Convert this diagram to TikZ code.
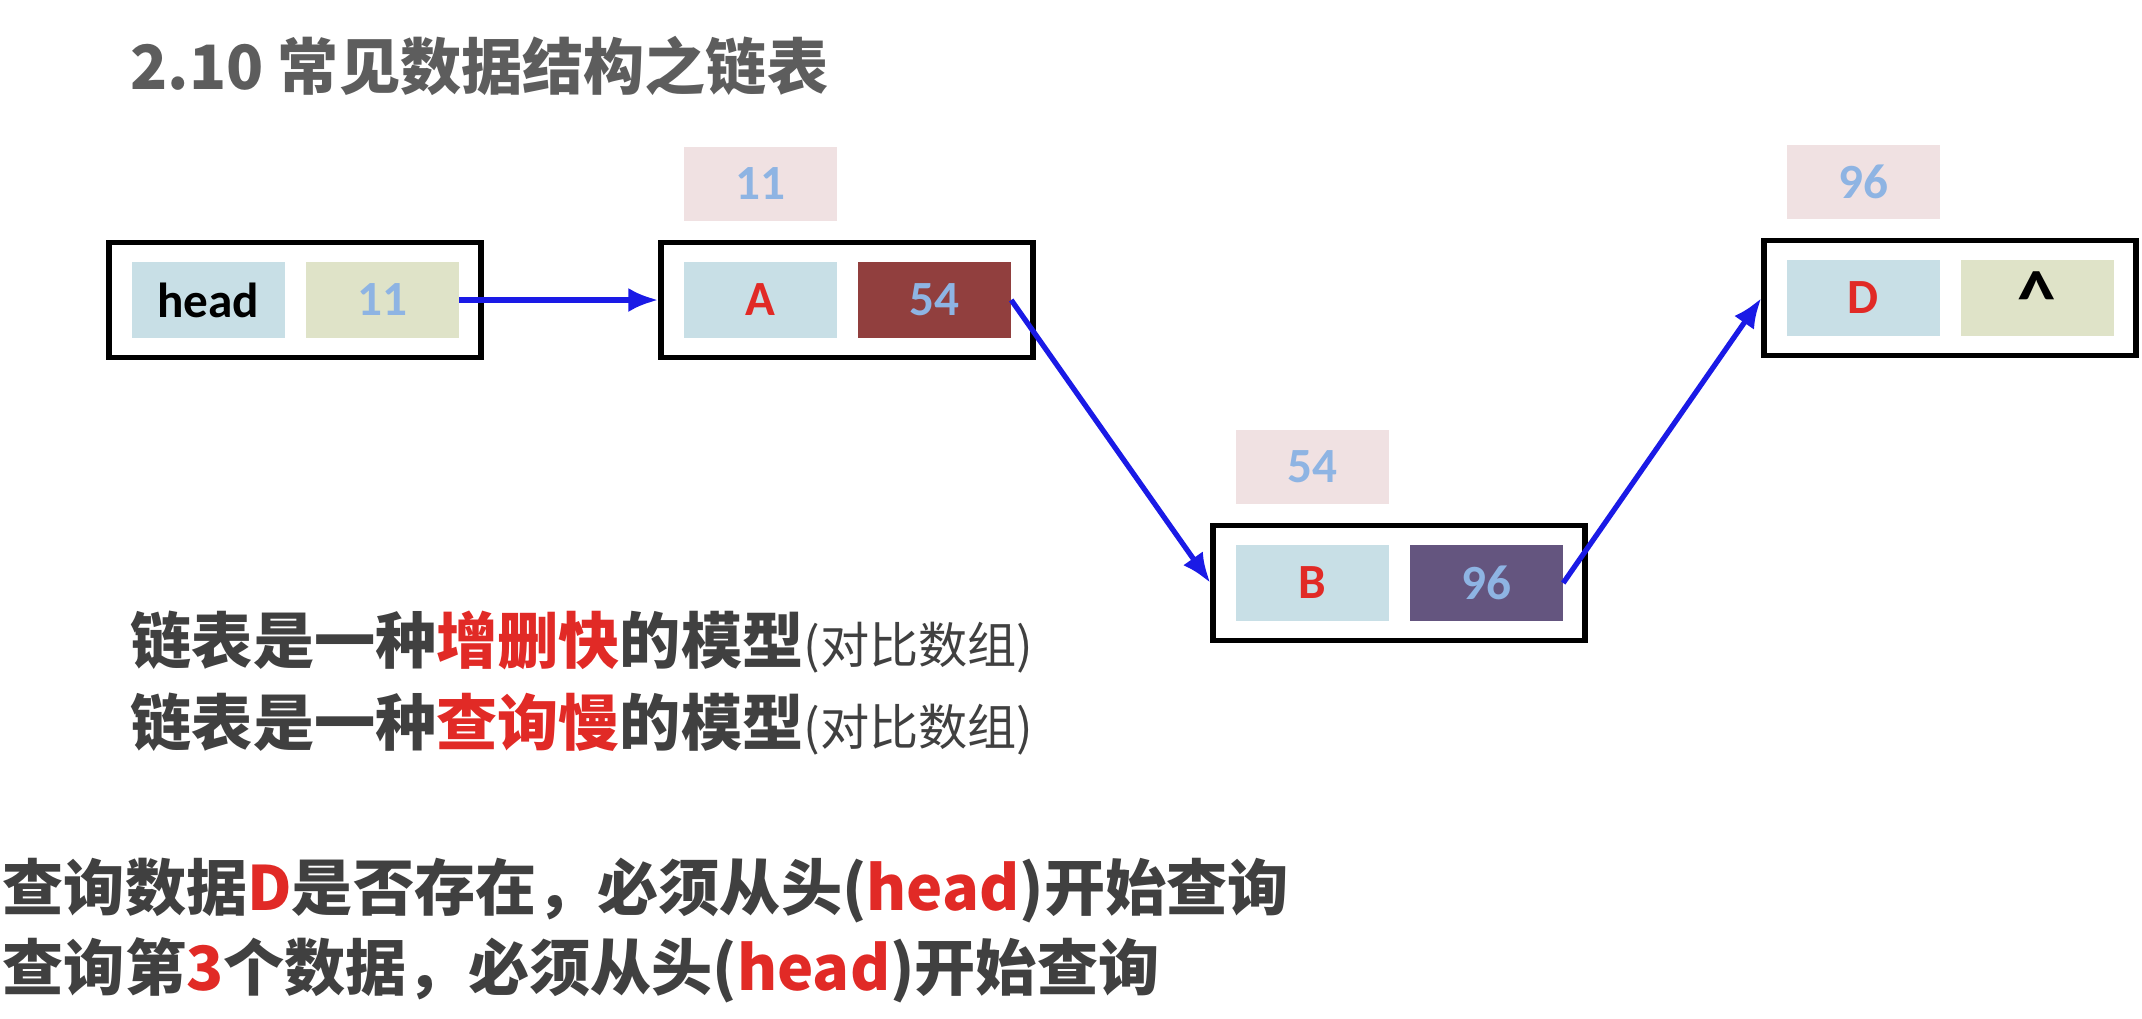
\documentclass[tikz,border=0pt]{standalone}
\usepackage{fontspec}
\setmainfont{Carlito}
\newfontfamily\cjk{Noto Sans CJK SC}
\usetikzlibrary{arrows.meta}

\definecolor{cellblue}{HTML}{C8DFE6}
\definecolor{cellkhaki}{HTML}{DFE3C8}
\definecolor{cellred}{HTML}{913F3E}
\definecolor{cellpurple}{HTML}{64557F}
\definecolor{tagpink}{HTML}{F0E1E2}
\definecolor{numblue}{HTML}{8EB4E3}
\definecolor{markred}{HTML}{E12A26}
\definecolor{textgray}{HTML}{404040}
\definecolor{linkblue}{HTML}{1A1AE6}

\begin{document}
\begin{tikzpicture}[
  node distance=8.7mm,
  listbox/.style = {
    draw,
    line width=1.5pt,
    fill=white,
    minimum width=3.72cm,
    minimum height=1.15cm
  },
  cell/.style = {
    minimum width=1.53cm,
    minimum height=0.76cm,
    inner sep=0pt,
    font=\fontsize{14}{16}\selectfont\bfseries
  },
  tag/.style = {
    cell,
    fill=tagpink,
    text=numblue,
    minimum height=0.74cm
  },
  note/.style = {
    anchor=west,
    inner sep=0pt,
    text=textgray,
    font=\cjk\bfseries\fontsize{17.4}{20}\selectfont
  },
  link/.style = {
    ->,
    draw=linkblue,
    line width=1.5pt
  },
  >={Latex[length=3mm,width=2.4mm]}
]
  \useasboundingbox (0,0) rectangle (21.42,-10.18);

  \node (title)[note, text=textgray!85] at (1.30,-0.66) {2.10 常见数据结构之链表};

  % head node
  \node (headbox)[listbox] at (2.95,-3.00) {};
  \node (hkey)[
    left of=headbox,
    cell,
    fill=cellblue
  ] {head};
  \node (hval)[
    right of=headbox,
    cell,
    fill=cellkhaki,
    text=numblue
  ] {11};

  % node A
  \node (abox)[
    right of=headbox,
    listbox,
    xshift=46.5mm
  ] {};
  \node (akey)[
    left of=abox,
    cell,
    fill=cellblue,
    text=markred
  ] {A};
  \node (aval)[
    right of=abox,
    cell,
    fill=cellred,
    text=numblue
  ] {54};
  \node (atag)[
    above of=akey,
    tag,
    yshift=2.9mm
  ] {11};

  % node B
  \node (bbox)[
    right of=abox,
    listbox,
    xshift=46.5mm,
    yshift=-28.3mm
  ] {};
  \node (bkey)[
    left of=bbox,
    cell,
    fill=cellblue,
    text=markred
  ] {B};
  \node (bval)[
    right of=bbox,
    cell,
    fill=cellpurple,
    text=numblue
  ] {96};
  \node (btag)[
    above of=bkey,
    tag,
    yshift=2.9mm
  ] {54};

  % node D
  \node (dbox)[
    right of=bbox,
    listbox,
    xshift=46.4mm,
    yshift=28.5mm
  ] {};
  \node (dkey)[
    left of=dbox,
    cell,
    fill=cellblue,
    text=markred
  ] {D};
  \node (dval)[
    right of=dbox,
    cell,
    fill=cellkhaki,
    font=\fontsize{22}{24}\selectfont\bfseries
  ] {\^{}};
  \node (dtag)[
    above of=dkey,
    tag,
    yshift=2.9mm
  ] {96};

  \draw[link] (hval.east) -- (abox.west);
  \draw[link] (aval.east) -- (bbox.west);
  \draw[link] (bval.east) -- (dbox.west);

  % notes
  \node (fastline)[note] at (1.30,-6.42)
    {链表是一种\textcolor{markred}{增删快}的模型{\mdseries\fontsize{14}{16}\selectfont(对比数组)}};
  \node (slowline)[note] at (1.30,-7.24)
    {链表是一种\textcolor{markred}{查询慢}的模型{\mdseries\fontsize{14}{16}\selectfont(对比数组)}};
  \node (findline)[note] at (0.02,-8.91)
    {查询数据\textcolor{markred}{D}是否存在，必须从头(\textcolor{markred}{head})开始查询};
  \node (thirdline)[note] at (0.02,-9.70)
    {查询第\textcolor{markred}{3}个数据，必须从头(\textcolor{markred}{head})开始查询};
\end{tikzpicture}
\end{document}
